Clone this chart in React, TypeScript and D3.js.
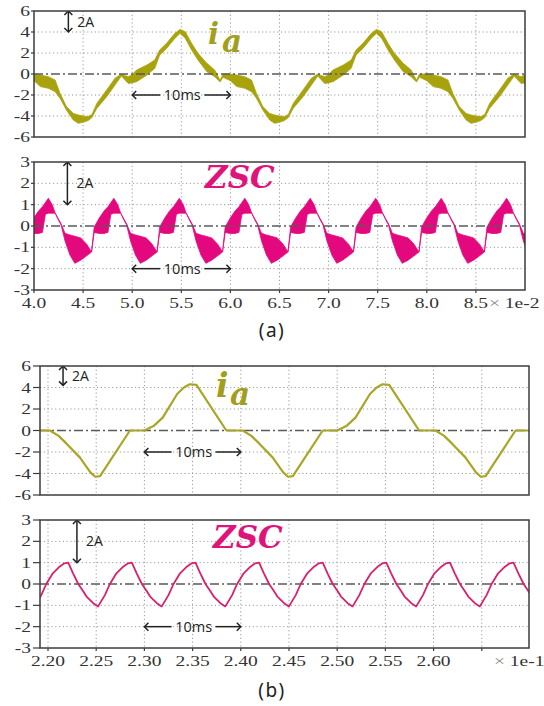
import React from "react";
import * as d3 from "d3";

// ---------------- Panel (a) data (time axis x 1e-2 s) ----------------
const xDomainA = [4.0, 9.0];
const xTicksA = [4.0, 4.5, 5.0, 5.5, 6.0, 6.5, 7.0, 7.5, 8.0, 8.5];
const xTickLabelsA = ["4.0", "4.5", "5.0", "5.5", "6.0", "6.5", "7.0", "7.5", "8.0", "8.5"];
const yTicksI = [-6, -4, -2, 0, 2, 4, 6];
const yTicksZ = [-3, -2, -1, 0, 1, 2, 3];

// ia band: one 20 ms cycle, offsets from the cycle start
const iaACycleStarts = [3.925, 5.925, 7.925];
const iaAPhase = [0, 0.075, 0.14, 0.22, 0.29, 0.34, 0.405, 0.475, 0.525, 0.575, 0.625, 0.665, 0.715, 0.815, 0.9, 0.965, 1.0, 1.035, 1.07, 1.12, 1.225, 1.305, 1.355, 1.425, 1.51, 1.562, 1.615, 1.68, 1.745, 1.835, 1.915, 1.97];
const iaAUpper = [0, 0, -0.1, -0.25, -0.57, -1.84, -3.1, -3.75, -3.9, -4.0, -4.06, -3.85, -2.8, -1.52, -0.4, 0, -0.15, -0.25, -0.1, 0.38, 0.86, 1.33, 2.29, 2.92, 3.87, 4.25, 4.03, 2.92, 1.97, 1.02, 0.38, -0.6];
const iaALower = [-0.3, -0.64, -1.2, -1.36, -1.68, -2.3, -3.43, -4.38, -4.7, -4.6, -4.44, -4.15, -3.27, -2.16, -1.05, -0.2, -0.55, -0.9, -0.85, -0.73, -0.1, 0.54, 1.81, 2.44, 3.4, 3.87, 3.4, 2.29, 1.33, 0.22, -0.25, -0.75];

// ZSC band: peaks, shape offsets relative to each peak
const zscAPeaks = [4.146, 4.813, 5.48, 6.147, 6.813, 7.48, 8.147, 8.813];
const zscAPhase = [-0.227, -0.2, -0.15, -0.1, -0.06, -0.03, 0, 0.04, 0.07, 0.1, 0.13, 0.17, 0.22, 0.27, 0.33, 0.39];
const zscAUpper = [-1.22, -0.05, 0.36, 0.7, 0.9, 1.1, 1.3, 1.0, 0.6, 0.35, 0.1, -0.34, -0.42, -0.48, -0.56, -0.85];
const zscALower = [-1.22, -0.3, -0.35, -0.35, -0.3, 0.55, 0.6, 0.6, 0.6, 0.3, 0.05, -0.7, -1.36, -1.75, -1.6, -1.4];

// ---------------- Panel (b) data (time axis x 1e-1 s) ----------------
const xDomainB = [2.1917, 2.699];
const xTicksB = [2.2, 2.25, 2.3, 2.35, 2.4, 2.45, 2.5, 2.55, 2.6, 2.65];
const xTickLabelsB = ["2.20", "2.25", "2.30", "2.35", "2.40", "2.45", "2.50", "2.55", "2.60", ""];

const iaBCycleStarts = [2.0, 2.2, 2.4, 2.6];
const iaBPhase = [0, 0.002, 0.011, 0.019, 0.033, 0.044, 0.049, 0.054, 0.085, 0.1, 0.11, 0.119, 0.134, 0.141, 0.147, 0.154, 0.185];
const iaBValues = [0, 0, -0.5, -1.2, -2.5, -3.9, -4.3, -4.25, 0, 0, 0.45, 1.2, 3.4, 4.0, 4.3, 4.25, 0];

const zscBPeaks = [2.155, 2.221, 2.287, 2.353, 2.419, 2.485, 2.551, 2.617, 2.683];
const zscBPhase = [0, 0.005, 0.0104, 0.015, 0.019, 0.0259, 0.031, 0.038, 0.0432, 0.05, 0.057, 0.062];
const zscBValues = [1.0, 0.5, 0.0, -0.3, -0.59, -0.9, -1.05, -0.52, 0.0, 0.5, 0.81, 0.97];

// ---------------- colours ----------------
const IA_BAND = "#a8a30c";
const IA_LINE = "#a9a526";
const ZSC_BAND = "#e4087e";
const ZSC_LINE = "#d9206c";
const IA_LABEL = "#a39f1c";
const ZSC_LABEL = "#e0137b";

type Band = { t: number; hi: number; lo: number };
type Pt = { t: number; v: number };

function tileBand(starts: number[], phase: number[], hi: number[], lo: number[]): Band[] {
  const out: Band[] = [];
  starts.forEach((s) => phase.forEach((p, i) => out.push({ t: s + p, hi: hi[i], lo: lo[i] })));
  return out;
}
function tileLine(starts: number[], phase: number[], vals: number[]): Pt[] {
  const out: Pt[] = [];
  starts.forEach((s) => phase.forEach((p, i) => out.push({ t: s + p, v: vals[i] })));
  return out;
}

const tickStyle: React.CSSProperties = { fontFamily: "'Liberation Serif', 'DejaVu Serif', serif", fontSize: "15px" };
const annStyle: React.CSSProperties = { fontFamily: "'Open Sans', 'Noto Sans', sans-serif", fontSize: "14px" };
const capStyle: React.CSSProperties = { fontFamily: "'Noto Sans', 'Open Sans', sans-serif", fontSize: "19px", letterSpacing: "1.5px" };
const labStyle = (size: number): React.CSSProperties => ({
  fontFamily: "'DejaVu Serif', 'Liberation Serif', serif",
  fontWeight: 700,
  fontStyle: "italic",
  fontSize: size + "px",
});
const TICK_SX = 1.3;

type PanelProps = {
  id: string;
  x0: number; x1: number; y0: number; y1: number;
  xDomain: number[]; yDomain: number[];
  xTicks: number[]; yTicks: number[];
  xLabels?: string[]; xUnit?: string; xUnitX?: number;
  tickLen: number; yLabelGap: number;
  children: (sx: d3.ScaleLinear<number, number>, sy: d3.ScaleLinear<number, number>) => React.ReactNode;
  overlay?: (sx: d3.ScaleLinear<number, number>, sy: d3.ScaleLinear<number, number>) => React.ReactNode;
};

function Panel(p: PanelProps) {
  const sx = d3.scaleLinear().domain(p.xDomain).range([p.x0, p.x1]);
  const sy = d3.scaleLinear().domain(p.yDomain).range([p.y1, p.y0]);
  const ymin = p.yDomain[0], ymax = p.yDomain[1];
  return (
    <g>
      <defs>
        <clipPath id={p.id}>
          <rect x={p.x0} y={p.y0} width={p.x1 - p.x0} height={p.y1 - p.y0} />
        </clipPath>
      </defs>
      {p.xTicks.filter((t) => Math.abs(sx(t) - p.x0) > 2).map((t) => (
        <line key={"vx" + t} x1={sx(t)} x2={sx(t)} y1={p.y0} y2={p.y1} stroke="#9a9a9a" strokeWidth={1} strokeDasharray="1.2,2.6" />
      ))}
      {p.yTicks.filter((v) => v !== 0 && v !== ymin && v !== ymax).map((v) => (
        <line key={"hy" + v} x1={p.x0} x2={p.x1} y1={sy(v)} y2={sy(v)} stroke="#9a9a9a" strokeWidth={1} strokeDasharray="1.2,2.6" />
      ))}
      <g clipPath={`url(#${p.id})`}>{p.children(sx, sy)}</g>
      <line x1={p.x0} x2={p.x1} y1={sy(0)} y2={sy(0)} stroke="#5a5a5a" strokeWidth={1.4} strokeDasharray="9,3,2,3" />
      <g clipPath={`url(#${p.id})`}>{p.overlay ? p.overlay(sx, sy) : null}</g>
      <rect x={p.x0} y={p.y0} width={p.x1 - p.x0} height={p.y1 - p.y0} fill="none" stroke="#3c3c3c" strokeWidth={1.5} />
      {p.yTicks.map((v) => (
        <g key={"yt" + v}>
          <line x1={p.x0 - p.tickLen} x2={p.x0} y1={sy(v)} y2={sy(v)} stroke="#3c3c3c" strokeWidth={1.2} />
          <text transform={`translate(${p.x0 - p.yLabelGap},${sy(v) + 5}) scale(${TICK_SX},1)`} textAnchor="end" style={tickStyle} fill="#333">
            {v < 0 ? "-" + Math.abs(v) : String(v)}
          </text>
        </g>
      ))}
      {p.xLabels ? p.xTicks.map((t, i) => (
        <g key={"xt" + t}>
          <line x1={sx(t)} x2={sx(t)} y1={p.y1} y2={p.y1 + 3} stroke="#3c3c3c" strokeWidth={1.2} />
          <text transform={`translate(${sx(t)},${p.y1 + 18}) scale(${TICK_SX},1)`} textAnchor="middle" style={tickStyle} fill="#333">
            {p.xLabels![i]}
          </text>
        </g>
      )) : null}
      {p.xUnit ? (
        <text transform={`translate(${p.xUnitX},${p.y1 + 18}) scale(${TICK_SX},1)`} style={tickStyle} fill="#333">
          <tspan fill="#888">×</tspan> {p.xUnit}
        </text>
      ) : null}
    </g>
  );
}

function VArrow({ x, ya, yb, label }: { x: number; ya: number; yb: number; label: string }) {
  const h = 4;
  return (
    <g>
      <g stroke="#222" strokeWidth={1.5} fill="none">
        <line x1={x} x2={x} y1={ya} y2={yb} />
        <polyline points={`${x - h},${ya + h} ${x},${ya} ${x + h},${ya + h}`} />
        <polyline points={`${x - h},${yb - h} ${x},${yb} ${x + h},${yb - h}`} />
      </g>
      <text x={x + 9} y={(ya + yb) / 2 + 5} fill="#222" style={annStyle}>{label}</text>
    </g>
  );
}

function HArrow({ xa, xb, y, label }: { xa: number; xb: number; y: number; label: string }) {
  const h = 4;
  const mid = (xa + xb) / 2;
  return (
    <g>
      <g stroke="#222" strokeWidth={1.5} fill="none">
        <line x1={xa} x2={mid - 21} y1={y} y2={y} />
        <line x1={mid + 23} x2={xb} y1={y} y2={y} />
        <polyline points={`${xa + h},${y - h} ${xa},${y} ${xa + h},${y + h}`} />
        <polyline points={`${xb - h},${y - h} ${xb},${y} ${xb - h},${y + h}`} />
      </g>
      <text x={mid + 1} y={y + 5} textAnchor="middle" fill="#222" style={{ ...annStyle, fontSize: "14.5px" }}>{label}</text>
    </g>
  );
}

export default function App() {
  const iaABand = tileBand(iaACycleStarts, iaAPhase, iaAUpper, iaALower);
  const zscABand = tileBand(zscAPeaks, zscAPhase, zscAUpper, zscALower);
  const iaBLine = tileLine(iaBCycleStarts, iaBPhase, iaBValues);
  const zscBLine = tileLine(zscBPeaks, zscBPhase, zscBValues);

  const bandPath = (sx: any, sy: any, data: Band[]) =>
    d3.area<Band>().x((d) => sx(d.t)).y0((d) => sy(d.lo)).y1((d) => sy(d.hi))(data) || "";
  const linePath = (sx: any, sy: any, data: Pt[]) =>
    d3.line<Pt>().x((d) => sx(d.t)).y((d) => sy(d.v))(data) || "";

  return (
    <svg width={544} height={706} style={{ position: "absolute", left: 0, top: 0, background: "#fff" }}>
      <rect width={544} height={706} fill="#fff" />

      <Panel id="ca1" x0={34} x1={525} y0={11} y1={137} xDomain={xDomainA} yDomain={[-6, 6]}
        xTicks={xTicksA} yTicks={yTicksI} tickLen={3} yLabelGap={4}
        children={(sx, sy) => <path d={bandPath(sx, sy, iaABand)} fill={IA_BAND} stroke={IA_BAND} strokeWidth={0.8} />}
        overlay={(sx, sy) => (
          <g>
            <VArrow x={sx(4.35)} ya={sy(6)} yb={sy(4)} label="2A" />
            <HArrow xa={sx(5.0)} xb={sx(6.0)} y={sy(-2)} label="10ms" />
          </g>
        )}
      />
      <text x={208} y={44} style={labStyle(29)} fill={IA_LABEL}>i</text>
      <text x={222} y={52} style={labStyle(31)} fill={IA_LABEL}>a</text>

      <Panel id="ca2" x0={34} x1={525} y0={162} y1={290} xDomain={xDomainA} yDomain={[-3, 3]}
        xTicks={xTicksA} yTicks={yTicksZ} xLabels={xTickLabelsA} xUnit="1e-2" xUnitX={489} tickLen={3} yLabelGap={4}
        children={(sx, sy) => <path d={bandPath(sx, sy, zscABand)} fill={ZSC_BAND} stroke={ZSC_BAND} strokeWidth={0.8} />}
        overlay={(sx, sy) => (
          <g>
            <VArrow x={sx(4.34)} ya={sy(3)} yb={sy(1)} label="2A" />
            <HArrow xa={sx(5.0)} xb={sx(6.0)} y={sy(-2)} label="10ms" />
          </g>
        )}
      />
      <text x={205} y={188} style={labStyle(31)} fill={ZSC_LABEL}>ZSC</text>

      <text x={272} y={337} textAnchor="middle" style={capStyle} fill="#222">(a)</text>

      <Panel id="cb1" x0={40} x1={529} y0={366} y1={495} xDomain={xDomainB} yDomain={[-6, 6]}
        xTicks={xTicksB} yTicks={yTicksI} tickLen={7} yLabelGap={9}
        children={() => null}
        overlay={(sx, sy) => (
          <g>
            <path d={linePath(sx, sy, iaBLine)} fill="none" stroke={IA_LINE} strokeWidth={2.2} strokeLinejoin="round" />
            <VArrow x={sx(2.2156)} ya={sy(6)} yb={sy(4.2)} label="2A" />
            <HArrow xa={sx(2.3)} xb={sx(2.4)} y={sy(-2)} label="10ms" />
          </g>
        )}
      />
      <text x={216} y={397} style={labStyle(33)} fill={IA_LABEL}>i</text>
      <text x={230} y={405} style={labStyle(31)} fill={IA_LABEL}>a</text>

      <Panel id="cb2" x0={40} x1={529} y0={520} y1={648} xDomain={xDomainB} yDomain={[-3, 3]}
        xTicks={xTicksB} yTicks={yTicksZ} xLabels={xTickLabelsB} xUnit="1e-1" xUnitX={494} tickLen={7} yLabelGap={9}
        children={() => null}
        overlay={(sx, sy) => (
          <g>
            <path d={linePath(sx, sy, zscBLine)} fill="none" stroke={ZSC_LINE} strokeWidth={1.8} strokeLinejoin="round" />
            <VArrow x={sx(2.23)} ya={sy(3)} yb={sy(1)} label="2A" />
            <HArrow xa={sx(2.3)} xb={sx(2.4)} y={sy(-2)} label="10ms" />
          </g>
        )}
      />
      <text x={213} y={548} style={labStyle(31)} fill={ZSC_LABEL}>ZSC</text>

      <text x={272} y={697} textAnchor="middle" style={capStyle} fill="#222">(b)</text>
    </svg>
  );
}
